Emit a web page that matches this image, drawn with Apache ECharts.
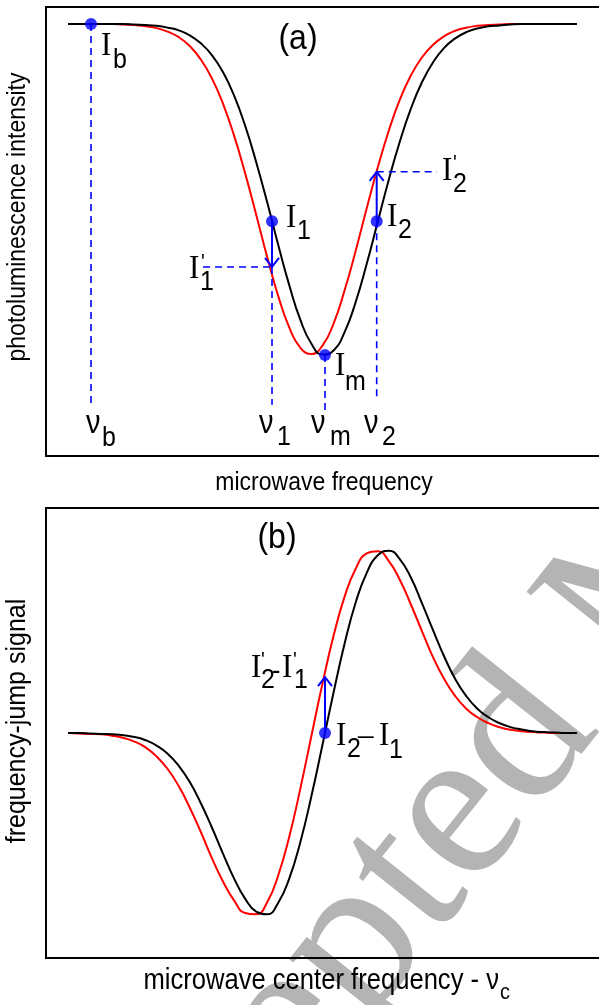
<!DOCTYPE html>
<html><head><meta charset="utf-8">
<script src="https://cdn.jsdelivr.net/npm/echarts@6/dist/echarts.min.js"></script>
<style>html,body{margin:0;padding:0;background:#fff}#c{width:599px;height:1005px}</style>
</head><body><div id="c"></div>
<script>
// ---- data (x: microwave frequency, arbitrary units 0..100) ----
const freq = [4,6,8,10,12,14,16,18,20,22,24,26,28,30,32,34,36,38,40,42,44,46,48,50,52,54,56,58,60,62,64,66,68,70,72,74,76,78,80,82,84,86,88,90,92,94,96];
// panel (a): photoluminescence intensity (0..100)
const dipBlack = [96.2,96.2,96.2,96.2,96.2,96.2,96.1,96.0,95.8,95.4,94.8,93.7,91.9,89.3,85.5,80.3,73.6,65.5,56.5,47.0,38.0,30.3,25.0,22.6,23.5,27.6,34.3,42.8,52.2,61.6,70.1,77.4,83.3,87.7,90.9,93.0,94.4,95.2,95.7,95.9,96.1,96.2,96.2,96.2,96.2,96.2,96.2];
const dipRed   = [96.2,96.2,96.2,96.2,96.2,96.1,96.0,95.7,95.3,94.5,93.3,91.3,88.3,84.1,78.5,71.4,63.0,53.8,44.3,35.6,28.6,24.1,22.7,24.6,29.5,36.9,45.7,55.2,64.3,72.5,79.4,84.8,88.8,91.6,93.5,94.7,95.4,95.8,96.0,96.1,96.2,96.2,96.2,96.2,96.2,96.2,96.2];
// panel (b): frequency-jump signal (-50..50)
const jumpBlack = [0,0,-0.1,-0.2,-0.3,-0.5,-0.9,-1.6,-2.8,-4.6,-7.3,-10.9,-15.6,-21.0,-26.8,-32.3,-36.8,-39.7,-40.3,-37.7,-32.3,-24.2,-14.0,-2.6,9.0,19.9,29.0,35.6,39.5,40.5,38.6,34.5,28.8,22.8,17.0,12.0,8.2,5.4,3.5,2.2,1.3,0.8,0.4,0.2,0.1,0,0];
const jumpRed   = [0,-0.1,-0.2,-0.3,-0.6,-1.1,-1.9,-3.2,-5.2,-8.0,-11.8,-16.6,-22.0,-27.8,-33.0,-37.2,-40.0,-40.3,-37.6,-31.6,-23.0,-12.3,-0.6,11.0,21.6,30.3,36.5,39.9,40.4,38.2,34.0,28.5,22.6,16.8,12.0,8.2,5.4,3.5,2.2,1.3,0.7,0.4,0.2,0.1,0,0,0];
// marked points: Ib, I1, I2, Im
const pointsA = [[8.14,96.2],[40.87,52.3],[59.8,52.3],[50.45,22.5]];
const pointsB = [[50.45,0]];
// dashed guide segments [x0,y0,x1,y1]
const dashesA = [[8.14,96.2,8.14,11.4],[40.87,42.1,40.87,11.4],[28.4,42.1,40.87,42.1],[50.45,22.5,50.45,10.2],[59.8,52.3,59.8,12.5],[59.8,63.3,70.7,63.3]];
// arrows [x, yFrom, yTo]
const arrowsA = [[40.87,52.3,42.1],[59.8,52.3,63.3]];
const arrowsB = [[50.45,0,12.4]];

const BLUE = '#0000ff';
const pairs = ys => freq.map((x,i)=>[x, ys[i]]);

function renderDash(params, api){
  const p0 = api.coord([api.value(0), api.value(1)]);
  const p1 = api.coord([api.value(2), api.value(3)]);
  return {type:'line', shape:{x1:p0[0],y1:p0[1],x2:p1[0],y2:p1[1]},
    style:{stroke:BLUE, lineWidth:1.6, lineDash:[7,5], fill:null}};
}
function renderArrow(params, api){
  const u = api.value(0);
  const a = api.coord([u, api.value(1)]);
  const b = api.coord([u, api.value(2)]);
  const dir = b[1] < a[1] ? -1 : 1;
  const hw = 7, hl = 9;
  return {type:'group', children:[
    {type:'line', shape:{x1:a[0],y1:a[1],x2:b[0],y2:b[1]}, style:{stroke:BLUE, lineWidth:2}},
    {type:'polyline', shape:{points:[[b[0]-hw, b[1]-dir*hl],[b[0],b[1]],[b[0]+hw,b[1]-dir*hl]]},
      style:{stroke:BLUE, lineWidth:2, fill:null}}
  ]};
}

const SY = 1.12;
function T(text, x, base, fam, size, o){
  o = o || {};
  const serif = fam === 'serif';
  const k = serif ? 0.3375 : 0.3465;
  const al = o.align || 'left';
  return {type:'text', x:x, y:base, scaleY:(o.sy!==undefined?o.sy:SY), rotation:o.rot||0, z:(o.z!==undefined?o.z:50),
    style:{text:text, x:0, y:-k*size, font: size+'px ' + (serif?'"Liberation Serif", "Times New Roman", serif':'"Liberation Sans", Arial, sans-serif'),
      fill:o.color||'#000', textAlign:al, align:al, textVerticalAlign:'middle', verticalAlign:'middle'}};
}

const S='serif', A='sans';
const labels = [
  // panel (a)
  T('(a)',298,52,A,32,{align:'center'}),
  T('I',101,58,S,31), T('b',113,70,A,25),
  T('I',286,230,S,31), T('1',297,241,A,25),
  T('I',189,281,S,31), T("'",201,271,A,20), T('1',200,292,A,25),
  T('I',387,229,S,31), T('2',398,240,A,25),
  T('I',442,183,S,31), T("'",453,172,A,20), T('2',453,194,A,25),
  T('I',335,378,S,31), T('m',345,392,A,25),
  T('ν',86,435,A,29), T('b',102,448,A,25),
  T('ν',259,435,A,29), T('1',277,447,A,25),
  T('ν',311,435,A,29), T('m',330,447,A,25),
  T('ν',364,435,A,29), T('2',382,447,A,25),
  T('photoluminescence intensity',27,217,A,23,{rot:Math.PI/2, align:'center'}),
  T('microwave frequency',324,492,A,23,{align:'center'}),
  // panel (b)
  T('(b)',277,551,A,32,{align:'center'}),
  T('I',251,680,S,31), T("'",261,669,A,20), T('2',261,690,A,25), T('-',272,681,A,25),
  T('I',282,680,S,31), T("'",293,669,A,20), T('1',294,690,A,25),
  T('I',336,748,S,31), T('2',347,759,A,25), T('–',358,748,S,31),
  T('I',379,748,S,31), T('1',389,760,A,25),
  T('frequency-jump signal',27,721,A,25,{rot:Math.PI/2, align:'center'}),
  T('microwave center frequency - ν',499,991,A,25.6,{align:'right'}),
  T('c',500,1001,A,20)
];
// watermark
const WM_ROT = 51.5*Math.PI/180, WM_F = 220, WM_X = 378, WM_Y = 1036;
const watermark = [
  T('Acce',WM_X,WM_Y,S,WM_F,{rot:WM_ROT, align:'right', sy:1, color:'#b4b4b4', z:-1}),
  T('pted Manuscript',WM_X,WM_Y,S,WM_F,{rot:WM_ROT, align:'left', sy:1, color:'#b4b4b4', z:-1})
];

const axLine = {show:true, onZero:false, lineStyle:{color:'#000', width:2}};
function xAx(g, pos){ return {gridIndex:g, type:'value', min:0, max:100, position:pos, axisLine:axLine, axisTick:{show:false}, axisLabel:{show:false}, splitLine:{show:false}}; }
function yAx(g, mn, mx){ return {gridIndex:g, type:'value', min:mn, max:mx, position:'left', axisLine:axLine, axisTick:{show:false}, axisLabel:{show:false}, splitLine:{show:false}}; }

const chart = echarts.init(document.getElementById('c'), null, {renderer:'canvas'});
chart.setOption({
  animation:false,
  backgroundColor:'#ffffff',
  grid:[
    {left:46, top:7, right:0, height:449, containLabel:false, outerBoundsMode:'none'},
    {left:46, top:508, right:0, height:450, containLabel:false, outerBoundsMode:'none'}
  ],
  xAxis:[xAx(0,'bottom'), xAx(0,'top'), xAx(1,'bottom'), xAx(1,'top')],
  yAxis:[yAx(0,0,100), yAx(1,-50,50)],
  graphic: watermark.concat(labels),
  series:[
    {type:'line', xAxisIndex:0, yAxisIndex:0, data:pairs(dipRed), smooth:0.5, showSymbol:false, lineStyle:{color:'#ff0000', width:2}, z:2},
    {type:'line', xAxisIndex:0, yAxisIndex:0, data:pairs(dipBlack), smooth:0.5, showSymbol:false, lineStyle:{color:'#000000', width:2}, z:3},
    {type:'custom', xAxisIndex:0, yAxisIndex:0, data:dashesA, renderItem:renderDash, z:4, clip:false},
    {type:'custom', xAxisIndex:0, yAxisIndex:0, data:arrowsA, renderItem:renderArrow, z:5, clip:false},
    {type:'scatter', xAxisIndex:0, yAxisIndex:0, data:pointsA, symbolSize:12, itemStyle:{color:BLUE}, z:6},
    {type:'line', xAxisIndex:2, yAxisIndex:1, data:pairs(jumpRed), smooth:0.5, showSymbol:false, lineStyle:{color:'#ff0000', width:2}, z:2},
    {type:'line', xAxisIndex:2, yAxisIndex:1, data:pairs(jumpBlack), smooth:0.5, showSymbol:false, lineStyle:{color:'#000000', width:2}, z:3},
    {type:'custom', xAxisIndex:2, yAxisIndex:1, data:arrowsB, renderItem:renderArrow, z:5, clip:false},
    {type:'scatter', xAxisIndex:2, yAxisIndex:1, data:pointsB, symbolSize:12, itemStyle:{color:BLUE}, z:6}
  ]
});
</script>
</body></html>
